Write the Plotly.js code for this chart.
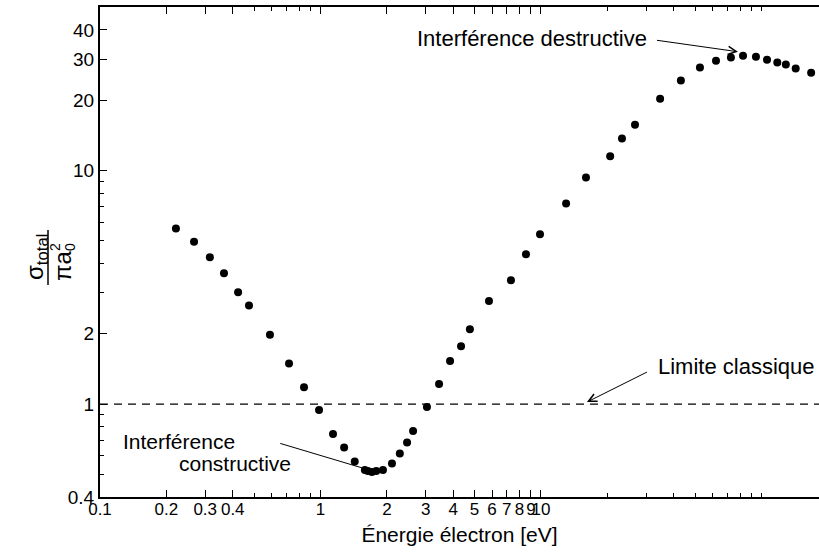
<!DOCTYPE html>
<html><head><meta charset="utf-8">
<script src="https://cdn.plot.ly/plotly-3.0.1.min.js"></script>
<style>html,body{margin:0;padding:0;background:#fff}#chart{width:819px;height:552px}</style>
</head><body><div id="chart"></div>
<script>
const energy = [0.221,0.267,0.315,0.365,0.423,0.474,0.590,0.720,0.842,0.985,
  1.14,1.28,1.43,1.59,1.64,1.71,1.79,1.92,
  2.11,2.29,2.47,2.63,3.04,3.45,3.87,4.34,4.76,5.81,
  7.31,8.55,9.90,13.0,16.0,20.6,23.3,26.7,34.7,43.1,
  52.6,62.2,72.7,82.5,94.4,106,118,129,143,168];
const sigma = [5.65,4.95,4.25,3.63,3.01,2.64,1.98,1.49,1.18,0.943,
  0.744,0.652,0.568,0.522,0.517,0.512,0.517,0.522,
  0.557,0.614,0.685,0.767,0.971,1.22,1.53,1.77,2.09,2.76,
  3.39,4.38,5.33,7.23,9.34,11.5,13.7,15.7,20.3,24.3,
  27.6,29.5,30.5,31.0,30.7,29.8,29.0,28.4,27.3,26.2];
const xTickVals = [0.1,0.2,0.3,0.4,1,2,3,4,5,6,7,8,9,10];
const xTickText = ['0.1','0.2','0.3','0.4','1','2','3','4','5','6','7','8','9','10'];
const xMinorVals = [0.5,0.6,0.7,0.8,0.9,20,30,40,50,60,70,80,90,100];
const yTickVals = [0.4,1,2,10,20,30,40];
const yTickText = ['0.4','1','2','10','20','30','40'];
const yMinorVals = [0.5,0.6,0.7,0.8,0.9,3,4,5,6,7,8,9];
const classicalLimit = 1;
const limitSpan = [0.1, 200];
const xTitle = 'Énergie électron [eV]';
const labelDestructive = 'Interférence destructive';
const labelClassic = 'Limite classique';
const labelConstructive1 = 'Interférence';
const labelConstructive2 = 'constructive';

const L = Math.log10;
const FONT = '"Liberation Sans", Arial, Helvetica, sans-serif';
const px2x = p => (p - 100) / 719;
const py2y = p => (497 - p) / 490;

const limitTrace = {
  x: limitSpan, y: limitSpan.map(() => classicalLimit), type: 'scatter', mode: 'lines',
  line: {color: '#000', width: 1.2, dash: '8px,6px'}, hoverinfo: 'skip'
};
const trace = {
  x: energy, y: sigma, type: 'scatter', mode: 'markers',
  marker: {color: '#000', size: 8}, cliponaxis: false, hoverinfo: 'skip'
};

const annFont = {family: FONT, size: 22, color: '#000'};
const layout = {
  width: 819, height: 552,
  margin: {l: 100, r: 0, t: 7, b: 55},
  paper_bgcolor: '#fff', plot_bgcolor: '#fff',
  showlegend: false,
  font: {family: FONT, color: '#000', size: 19},
  xaxis: {
    type: 'log', range: [-1, 2.261], showgrid: false, zeroline: false,
    showline: true, linecolor: '#000', linewidth: 2, mirror: 'ticks',
    ticks: 'inside', ticklen: 7, tickwidth: 1, tickcolor: '#000',
    tickmode: 'array', tickvals: xTickVals, ticktext: xTickText, tickangle: 0,
    ticklabelstandoff: -4,
    tickfont: {family: FONT, size: 17, color: '#000'},
    minor: {tickmode: 'array', tickvals: xMinorVals, ticks: 'inside', ticklen: 4, tickcolor: '#000', tickwidth: 1},
    title: {text: xTitle, font: {family: FONT, size: 21, color: '#000'}, standoff: 9}
  },
  yaxis: {
    type: 'log', range: [L(0.4), 1.70], showgrid: false, zeroline: false,
    showline: true, linecolor: '#000', linewidth: 2,
    ticks: 'inside', ticklen: 7, tickwidth: 1, tickcolor: '#000',
    tickmode: 'array', tickvals: yTickVals, ticktext: yTickText,
    tickfont: {family: FONT, size: 19, color: '#000'},
    minor: {tickmode: 'array', tickvals: yMinorVals, ticks: 'inside', ticklen: 4, tickcolor: '#000', tickwidth: 1}
  },
  shapes: [
    {type: 'line', xref: 'paper', yref: 'paper', x0: px2x(48), x1: px2x(48), y0: py2y(285), y1: py2y(230),
     line: {color: '#000', width: 1.5}}
  ],
  annotations: [
    {xref: 'x', yref: 'y', x: 0.959, y: 1.564, text: labelDestructive, showarrow: false, font: annFont},
    {xref: 'x', yref: 'y', x: 1.8934, y: 1.5085, ax: -85, ay: -12, text: ' ', showarrow: true,
     arrowhead: 5, arrowsize: 1.6, arrowwidth: 1, arrowcolor: '#000', standoff: 0},
    {xref: 'x', yref: 'y', x: 1.8866, y: 0.1624, text: labelClassic, showarrow: false, font: annFont},
    {xref: 'x', yref: 'y', x: 1.2086, y: 0.0085, ax: 64, ay: -32, text: ' ', showarrow: true,
     arrowhead: 5, arrowsize: 1.6, arrowwidth: 1, arrowcolor: '#000', standoff: 0},
    {xref: 'x', yref: 'y', x: -0.6431, y: -0.1600, text: labelConstructive1, showarrow: false,
     font: {family: FONT, size: 21, color: '#000'}, borderpad: 0},
    {xref: 'x', yref: 'y', x: -0.3855, y: -0.2560, text: labelConstructive2, showarrow: false,
     font: {family: FONT, size: 21, color: '#000'}, borderpad: 0},
    {xref: 'x', yref: 'y', x: 0.1941, y: -0.2748, ax: -87, ay: -26, text: ' ', showarrow: true,
     arrowhead: 0, arrowwidth: 1, arrowcolor: '#000', standoff: 0},
    {xref: 'paper', yref: 'paper', x: px2x(36), y: py2y(257), xanchor: 'center', yanchor: 'middle',
     text: 'σ<sub>total</sub>', textangle: -90,
     showarrow: false, font: {family: FONT, size: 24, color: '#000'}},
    {xref: 'paper', yref: 'paper', x: px2x(62), y: py2y(266), xanchor: 'center', yanchor: 'middle',
     text: 'πa', textangle: -90,
     showarrow: false, font: {family: FONT, size: 24, color: '#000'}},
    {xref: 'paper', yref: 'paper', x: px2x(55), y: py2y(247), xanchor: 'center', yanchor: 'middle',
     text: '2', textangle: -90,
     showarrow: false, font: {family: FONT, size: 14, color: '#000'}},
    {xref: 'paper', yref: 'paper', x: px2x(70), y: py2y(247), xanchor: 'center', yanchor: 'middle',
     text: '0', textangle: -90,
     showarrow: false, font: {family: FONT, size: 14, color: '#000'}}
  ]
};

Plotly.newPlot('chart', [limitTrace, trace], layout, {staticPlot: true, displayModeBar: false});
</script>
</body></html>
